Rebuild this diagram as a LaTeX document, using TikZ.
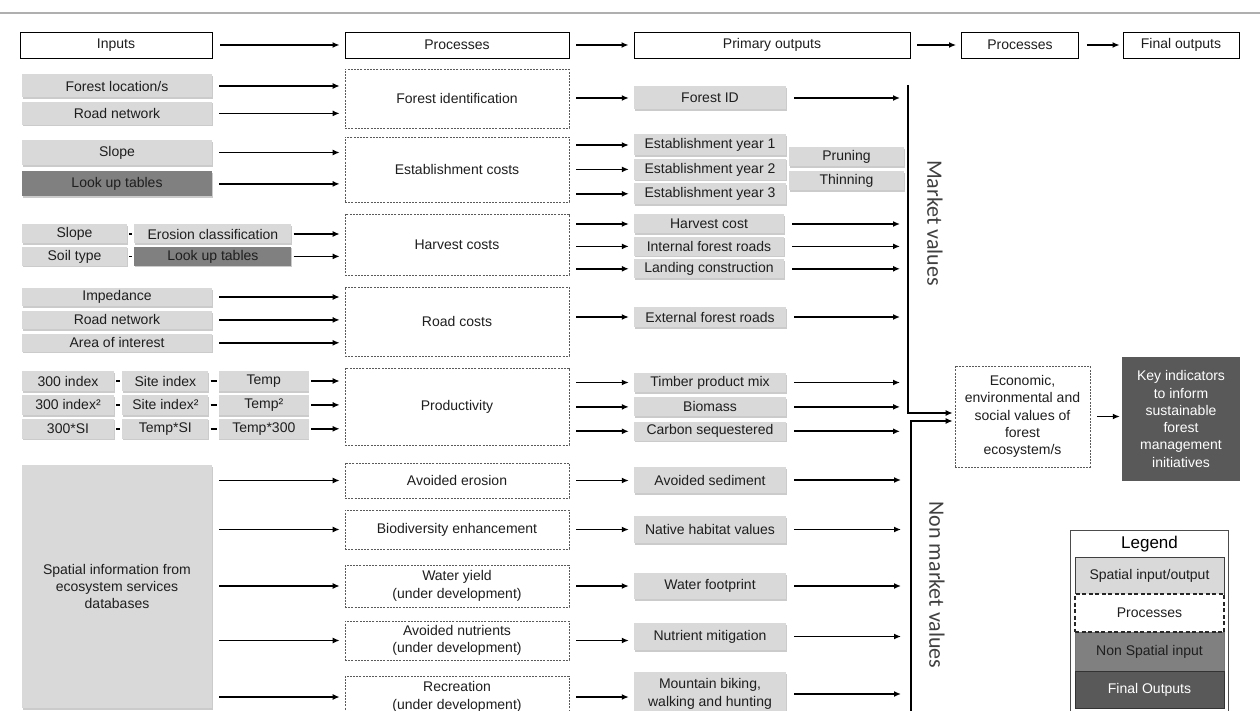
\documentclass[tikz,border=0pt]{standalone}
\usepackage{fontspec}
\setmainfont{Liberation Sans}
\newfontfamily\valfont{Carlito}
\usetikzlibrary{positioning,arrows.meta,shadows}
\definecolor{spatgrey}{RGB}{217,217,217}
\definecolor{nonspgrey}{RGB}{128,128,128}
\definecolor{finalgrey}{RGB}{89,89,89}
\definecolor{dashgrey}{RGB}{90,90,90}
\definecolor{rulegrey}{RGB}{175,175,175}
\definecolor{textgrey}{RGB}{30,30,30}

\tikzset{
    base/.style={inner sep=0pt, align=center, text=textgrey, font=\fontsize{14}{17.3}\selectfont},
    headbox/.style={base, draw=black, line width=0.9pt, fill=white, minimum height=26pt},
    spat/.style={base, fill=spatgrey, drop shadow={shadow xshift=0.5pt, shadow yshift=-1.6pt, fill=black!45, opacity=0.45}},
    lookup/.style={fill=nonspgrey},
    inbox/.style={spat, minimum width=190pt},
    outbox/.style={spat, minimum width=152pt},
    procbox/.style={base, draw=dashgrey, line width=0.7pt, dash pattern=on 2pt off 1.2pt, fill=white, minimum width=224pt},
    finbox/.style={base, fill=finalgrey, text=white},
    flow/.style={-{Latex[length=7pt,width=6pt]}, line width=1.7pt, shorten <=7pt, shorten >=5pt},
    headflow/.style={flow, line width=2pt},
    outflow/.style={flow, shorten <=8pt, shorten >=8pt},
    joint/.style={line width=1.7pt, shorten <=2pt, shorten >=2pt},
    vallabel/.style={rotate=-90, text=black!75, font=\valfont\fontsize{22}{26}\selectfont},
}

\begin{document}
\begin{tikzpicture}[x=1pt, y=-1pt]
    \useasboundingbox (0,0) rectangle (1260,711);

    % 1. top rule
    \draw[rulegrey, line width=1.5pt] (0,13) -- (1260,13);

    % 2. header row
    \node (hin) at (116,45) [headbox, minimum width=192pt] {Inputs};
    \node (hproc) at (457,45) [headbox, minimum width=224pt] {Processes};
    \node (hprim) at (772,45) [headbox, minimum width=276pt] {Primary outputs};
    \node (hproc2) at (1020,45) [headbox, minimum width=117pt] {Processes};
    \node (hfin) at (1181,45) [headbox, minimum width=116pt] {Final outputs};
    \draw[headflow, shorten <=8pt] (hin) -- (hproc);
    \draw[headflow] (hproc) -- (hprim);
    \draw[headflow] (hprim) -- (hproc2);
    \draw[headflow, shorten <=8pt, shorten >=3pt] (hproc2) -- (hfin);

    % the two collecting lines
    \coordinate (mkt) at (908,85);
    \coordinate (nmkt) at (911,716);

    % 3. forest identification
    \node (floc) at (117,86) [inbox, minimum height=23pt] {Forest location/s};
    \node (road1) [inbox, minimum height=23pt, below=4pt of floc] {Road network};
    \node (pid) at (457,98.5) [procbox, minimum height=59pt] {Forest identification};
    \node (fid) at (710,98) [outbox, minimum height=23pt] {Forest ID};
    \draw[flow] (floc.east) -- (floc.east -| pid.west);
    \draw[flow] (road1.east) -- (road1.east -| pid.west);
    \draw[flow] (pid.east |- fid) -- (fid.west);
    \draw[outflow] (fid.east) -- (fid.east -| mkt);

    % 4. establishment costs
    \node (slope1) at (117,152.5) [inbox, minimum height=25pt] {Slope};
    \node (lut1) [inbox, lookup, minimum height=25pt, below=6pt of slope1] {Look up tables};
    \node (pest) at (457,169.5) [procbox, minimum height=65pt] {Establishment costs};
    \node (ey1) at (710,145) [outbox, minimum height=21pt] {Establishment year 1};
    \node (ey2) [outbox, minimum height=21pt, below=3pt of ey1] {Establishment year 2};
    \node (ey3) [outbox, minimum height=21pt, below=3pt of ey2] {Establishment year 3};
    \node (prun) at (846.5,156.5) [spat, minimum width=115pt, minimum height=19pt] {Pruning};
    \node (thin) [spat, minimum width=115pt, minimum height=19pt, below=5pt of prun] {Thinning};
    \draw[flow] (slope1.east) -- (slope1.east -| pest.west);
    \draw[flow] (lut1.east) -- (lut1.east -| pest.west);
    \draw[flow] (pest.east |- ey1) -- (ey1.west);
    \draw[flow] (pest.east |- ey2) -- (ey2.west);
    \draw[flow] (pest.east |- ey3) -- (ey3.west);

    % 5. harvest costs
    \node (slope2) at (74.5,234) [spat, minimum width=105pt, minimum height=19pt] {Slope};
    \node (soil) [spat, minimum width=105pt, minimum height=19pt, below=3pt of slope2] {Soil type};
    \node (eros) [spat, minimum width=157pt, minimum height=19pt, right=7pt of slope2] {Erosion classification};
    \node (lut2) [spat, lookup, minimum width=157pt, minimum height=19pt, right=7pt of soil] {Look up tables};
    \draw[joint] (slope2) -- (eros);
    \draw[joint] (soil) -- (lut2);
    \node (phar) at (457,244.5) [procbox, minimum height=61pt] {Harvest costs};
    \node (hcost) at (709,224) [outbox, minimum width=150pt, minimum height=19pt] {Harvest cost};
    \node (iroad) [outbox, minimum width=150pt, minimum height=19pt, below=3pt of hcost] {Internal forest roads};
    \node (land) [outbox, minimum width=150pt, minimum height=19pt, below=3pt of iroad] {Landing construction};
    \draw[flow, shorten <=2pt] (eros.east) -- (eros.east -| phar.west);
    \draw[flow, shorten <=2pt] (lut2.east) -- (lut2.east -| phar.west);
    \draw[flow] (phar.east |- hcost) -- (hcost.west);
    \draw[flow] (phar.east |- iroad) -- (iroad.west);
    \draw[flow] (phar.east |- land) -- (land.west);
    \draw[outflow] (hcost.east) -- (hcost.east -| mkt);
    \draw[outflow] (iroad.east) -- (iroad.east -| mkt);
    \draw[outflow] (land.east) -- (land.east -| mkt);

    % 6. road costs
    \node (imped) at (117,297) [inbox, minimum height=18pt] {Impedance};
    \node (road2) [inbox, minimum height=18pt, below=4.5pt of imped] {Road network};
    \node (aoi) [inbox, minimum height=18pt, below=4.5pt of road2] {Area of interest};
    \node (proad) at (457,321.5) [procbox, minimum height=69pt] {Road costs};
    \node (extr) at (710,317) [outbox, minimum height=20pt] {External forest roads};
    \draw[flow] (imped.east) -- (imped.east -| proad.west);
    \draw[flow] (road2.east) -- (road2.east -| proad.west);
    \draw[flow] (aoi.east) -- (aoi.east -| proad.west);
    \draw[flow] (proad.east |- extr) -- (extr.west);
    \draw[outflow] (extr.east) -- (extr.east -| mkt);

    % 7. productivity
    \node (ida) at (68,381) [spat, minimum width=92pt, minimum height=20pt] {300 index};
    \node (sia) [spat, minimum width=86pt, minimum height=20pt, right=8pt of ida] {Site index};
    \node (tpa) [spat, minimum width=90pt, minimum height=20pt, right=10pt of sia] {Temp};
    \node (idb) [spat, minimum width=92pt, minimum height=20pt, below=3.5pt of ida] {300 index²};
    \node (sib) [spat, minimum width=86pt, minimum height=20pt, right=8pt of idb] {Site index²};
    \node (tpb) [spat, minimum width=90pt, minimum height=20pt, right=10pt of sib] {Temp²};
    \node (idc) [spat, minimum width=92pt, minimum height=20pt, below=3.5pt of idb] {300*SI};
    \node (sic) [spat, minimum width=86pt, minimum height=20pt, right=8pt of idc] {Temp*SI};
    \node (tpc) [spat, minimum width=90pt, minimum height=20pt, right=10pt of sic] {Temp*300};
    \draw[joint] (ida) -- (sia);
    \draw[joint] (sia) -- (tpa);
    \draw[joint] (idb) -- (sib);
    \draw[joint] (sib) -- (tpb);
    \draw[joint] (idc) -- (sic);
    \draw[joint] (sic) -- (tpc);
    \node (pprod) at (457,406.5) [procbox, minimum height=77pt] {Productivity};
    \node (timb) at (710,382.5) [outbox, minimum height=19pt] {Timber product mix};
    \node (biom) [outbox, minimum height=19pt, below=5pt of timb] {Biomass};
    \node (carb) [outbox, minimum height=19pt, below=5pt of biom] {Carbon sequestered};
    \draw[flow, shorten <=2pt] (tpa.east) -- (tpa.east -| pprod.west);
    \draw[flow, shorten <=2pt] (tpb.east) -- (tpb.east -| pprod.west);
    \draw[flow, shorten <=2pt] (tpc.east) -- (tpc.east -| pprod.west);
    \draw[flow] (pprod.east |- timb) -- (timb.west);
    \draw[flow] (pprod.east |- biom) -- (biom.west);
    \draw[flow] (pprod.east |- carb) -- (carb.west);
    \draw[outflow] (timb.east) -- (timb.east -| mkt);
    \draw[outflow] (biom.east) -- (biom.east -| mkt);
    \draw[outflow] (carb.east) -- (carb.east -| mkt);

    % 8. ecosystem services
    \node (sinfo) at (117,586.5) [inbox, minimum height=243pt] {Spatial information from\\ecosystem services\\databases};
    \node (perod) at (457,480.5) [procbox, minimum height=35pt] {Avoided erosion};
    \node (pbiod) at (457,529.5) [procbox, minimum height=39pt] {Biodiversity enhancement};
    \node (pwat) at (457,586) [procbox, minimum height=42pt] {Water yield\\(under development)};
    \node (pnutr) at (457,640.5) [procbox, minimum height=39pt] {Avoided nutrients\\(under development)};
    \node (prec) at (457,697) [procbox, minimum height=42pt] {Recreation\\(under development)};
    \node (sedi) at (710,480) [outbox, minimum height=26pt] {Avoided sediment};
    \node (habi) at (710,529.5) [outbox, minimum height=27pt] {Native habitat values};
    \node (wfoot) at (710,586) [outbox, minimum height=26pt] {Water footprint};
    \node (nmit) at (710,636.5) [outbox, minimum height=27pt] {Nutrient mitigation};
    \node (mbike) at (710,694) [outbox, minimum height=44pt] {Mountain biking,\\walking and hunting};
    \draw[flow] (sinfo.east |- perod) -- (perod.west);
    \draw[flow] (sinfo.east |- pbiod) -- (pbiod.west);
    \draw[flow] (sinfo.east |- pwat) -- (pwat.west);
    \draw[flow] (sinfo.east |- pnutr) -- (pnutr.west);
    \draw[flow] (sinfo.east |- prec) -- (prec.west);
    \draw[flow] (perod.east) -- (perod.east -| sedi.west);
    \draw[flow] (pbiod.east) -- (pbiod.east -| habi.west);
    \draw[flow] (pwat.east) -- (pwat.east -| wfoot.west);
    \draw[flow] (pnutr.east) -- (pnutr.east -| nmit.west);
    \draw[flow] (prec.east) -- (prec.east -| mbike.west);
    \draw[outflow, shorten >=10pt] (sedi.east) -- (sedi.east -| nmkt);
    \draw[outflow, shorten >=10pt] (habi.east) -- (habi.east -| nmkt);
    \draw[outflow, shorten >=10pt] (wfoot.east) -- (wfoot.east -| nmkt);
    \draw[outflow, shorten >=10pt] (nmit.east) -- (nmit.east -| nmkt);
    \draw[outflow, shorten >=10pt] (mbike.east) -- (mbike.east -| nmkt);

    % 9. values and final outputs
    \node (econ) at (1022.5,416.5) [procbox, minimum width=135pt, minimum height=101pt] {Economic,\\environmental and\\social values of\\forest\\ecosystem/s};
    \node (keyind) at (1181,419) [finbox, minimum width=118pt, minimum height=124pt] {Key indicators\\to inform\\sustainable\\forest\\management\\initiatives};
    \draw[flow, shorten <=0pt, shorten >=2pt] (mkt) |- ([yshift=3.5pt]econ.west);
    \draw[flow, shorten <=0pt, shorten >=2pt] (nmkt) |- ([yshift=-4.5pt]econ.west);
    \draw[flow, shorten >=2pt] (econ) -- (econ -| keyind.west);

    \node (mval) at (935,223) [vallabel] {Market values};
    \node (nmval) at (937,585) [vallabel] {Non market values};

    % 10. legend
    \node (leg) at (1149,621.5) [draw=black!70, line width=1pt, fill=white, minimum width=158pt, minimum height=183pt] {};
    \node (legt) at (1149.5,544) [base, text=black, font=\fontsize{17}{20}\selectfont] {Legend};
    \node (lgsp) at (1149.5,575.5) [base, fill=spatgrey, draw=black!75, line width=1pt, minimum width=149pt, minimum height=37pt] {Spatial input/output};
    \node (lgnon) at (1149.5,651.5) [base, fill=nonspgrey, draw=black!55, line width=0.8pt, minimum width=149pt, minimum height=39pt] {Non Spatial input};
    \node (lgfin) at (1149.5,689.5) [finbox, draw=black!80, line width=1pt, minimum width=149pt, minimum height=37pt] {Final Outputs};
    \node (lgpr) at (1149.5,613) [base, fill=white, draw=black!85, line width=1.2pt, dash pattern=on 4pt off 2.5pt, minimum width=149pt, minimum height=38pt] {Processes};

\end{tikzpicture}
\end{document}
